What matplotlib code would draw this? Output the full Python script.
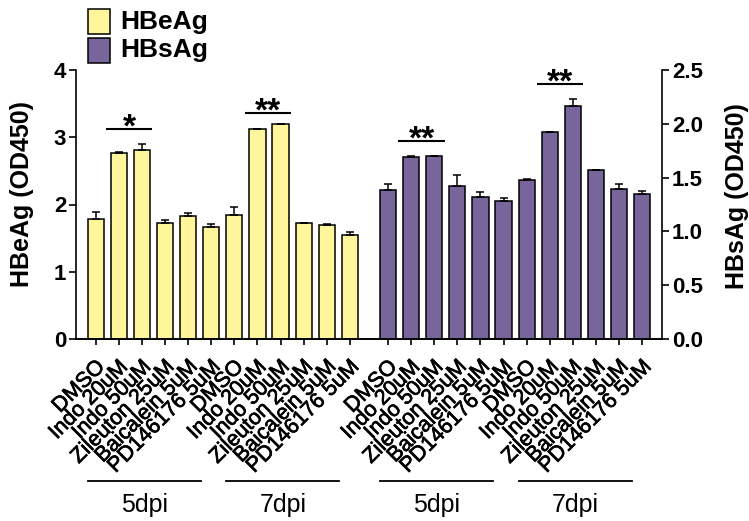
import numpy as np
import matplotlib
matplotlib.use("Agg")
import matplotlib.pyplot as plt
import matplotlib.patheffects as pe
from matplotlib.patches import Rectangle
from matplotlib.transforms import blended_transform_factory, ScaledTranslation

plt.rcParams.update({
    "font.family": ["Liberation Sans", "DejaVu Sans"],
    "axes.linewidth": 1.2,
    "xtick.major.width": 1.2,
    "ytick.major.width": 1.2,
})

# ── Data ──────────────────────────────────────────────────────────────────────
treatments = ["DMSO", "Indo 20uM", "Indo 50uM", "Zileuton 25uM",
              "Baicalein 5uM", "PD146176 5uM"]
timepoints = ["5dpi", "7dpi"]

hbeag_mean = [1.78, 2.77, 2.81, 1.72, 1.83, 1.66,
              1.84, 3.12, 3.19, 1.72, 1.70, 1.54]
hbeag_err = [0.11, 0.01, 0.09, 0.045, 0.045, 0.05,
             0.12, 0.01, 0.01, 0.01, 0.01, 0.05]

hbsag_mean = [1.385, 1.69, 1.70, 1.425, 1.32, 1.285,
              1.48, 1.92, 2.17, 1.57, 1.39, 1.35]
hbsag_err = [0.055, 0.01, 0.005, 0.10, 0.05, 0.025,
             0.01, 0.005, 0.06, 0.005, 0.05, 0.025]

# significance brackets: (series, first bar, second bar, height, label)
sig_marks = [("HBeAg", 1, 2, 3.12, "*"),
             ("HBeAg", 7, 8, 3.365, "**"),
             ("HBsAg", 1, 2, 1.837, "**"),
             ("HBsAg", 7, 8, 2.367, "**")]

YELLOW = "#FFF59B"
PURPLE = "#77659C"

n = len(hbeag_mean)
pos_e = np.arange(n, dtype=float)
pos_s = pos_e + n + 0.65
labels = treatments * 2 * 2

fig = plt.figure(figsize=(7.49, 5.21), dpi=100)
W, H = 749, 521
ax = fig.add_axes([76 / W, 1 - 339 / H, (662.3 - 76) / W, (339 - 70) / H])
ax2 = ax.twinx()

bar_kw = dict(width=0.7, edgecolor="black", linewidth=1.1, zorder=2)
err_kw = dict(fmt="none", ecolor="black", elinewidth=1.1, capsize=3.2,
              capthick=1.1, zorder=3)

ax.bar(pos_e, hbeag_mean, color=YELLOW, **bar_kw)
ax.errorbar(pos_e, hbeag_mean, yerr=[np.zeros(n), hbeag_err], **err_kw)
ax2.bar(pos_s, hbsag_mean, color=PURPLE, **bar_kw)
ax2.errorbar(pos_s, hbsag_mean, yerr=[np.zeros(n), hbsag_err], **err_kw)

ax.set_xlim(-0.85, pos_s[-1] + 0.87)
ax.set_ylim(0, 4)
ax2.set_ylim(0, 2.5)
ax.set_yticks([0, 1, 2, 3, 4])
ax2.set_yticks([0, 0.5, 1.0, 1.5, 2.0, 2.5])
ax2.set_yticklabels([f"{v:.1f}" for v in ax2.get_yticks()])

for a in (ax, ax2):
    a.spines["top"].set_visible(False)
    a.tick_params(axis="y", length=5, labelsize=16, pad=2)
    for t in a.get_yticklabels():
        t.set_fontweight("bold")
ax.spines["right"].set_visible(False)
ax2.spines["left"].set_visible(False)

ax.set_xticks(np.concatenate([pos_e, pos_s]))
ax.set_xticklabels(labels, rotation=45, ha="right", va="center",
                   rotation_mode="anchor", fontsize=15.5)
ax.tick_params(axis="x", length=4, pad=14)
shift = ScaledTranslation(6 / 100, 0, fig.dpi_scale_trans)
heavy = [pe.withStroke(linewidth=0.5, foreground="black")]
for t in ax.get_xticklabels():
    t.set_transform(t.get_transform() + shift)
    t.set_path_effects(heavy)

# significance brackets
for series, i, j, y, lab in sig_marks:
    a, pos = (ax, pos_e) if series == "HBeAg" else (ax2, pos_s)
    x0, x1 = pos[i] - 0.55, pos[j] + 0.45
    a.plot([x0, x1], [y, y], color="black", lw=1.5, solid_capstyle="butt")
    a.annotate(lab, ((x0 + x1) / 2, y), xytext=(0, -5.5),
               textcoords="offset points", ha="center", va="baseline",
               fontsize=24, fontweight="bold")

# time-point group lines under the tick labels
tr = blended_transform_factory(ax.transData, fig.transFigure)
for pos in (pos_e, pos_s):
    for g, tp in enumerate(timepoints):
        grp = pos[g * 6:(g + 1) * 6]
        x0, x1 = grp[0] - 0.35, grp[-1] - 0.45
        ax.plot([x0, x1], [1 - 481 / H] * 2, color="black", lw=1.3,
                transform=tr, clip_on=False)
        ax.text((x0 + x1) / 2, 1 - 505 / H, tp, transform=tr,
                ha="center", va="center", fontsize=18)

# axis titles
fig.text(22 / W, 1 - 194 / H, "HBeAg (OD450)", rotation=90, ha="center",
         va="center", fontsize=18, fontweight="bold")
fig.text(737 / W, 1 - 196 / H, "HBsAg (OD450)", rotation=90, ha="center",
         va="center", fontsize=18, fontweight="bold")

# legend
for k, (name, col) in enumerate([("HBeAg", YELLOW), ("HBsAg", PURPLE)]):
    yc = 21.5 + 29 * k
    fig.patches.append(Rectangle((88 / W, 1 - (yc + 12) / H), 22 / W, 24 / H,
                                 facecolor=col, edgecolor="black", lw=1.1,
                                 transform=fig.transFigure))
    fig.text(120 / W, 1 - yc / H, name, ha="left", va="center",
             fontsize=19, fontweight="bold")

fig.savefig("out.png", dpi=100)
